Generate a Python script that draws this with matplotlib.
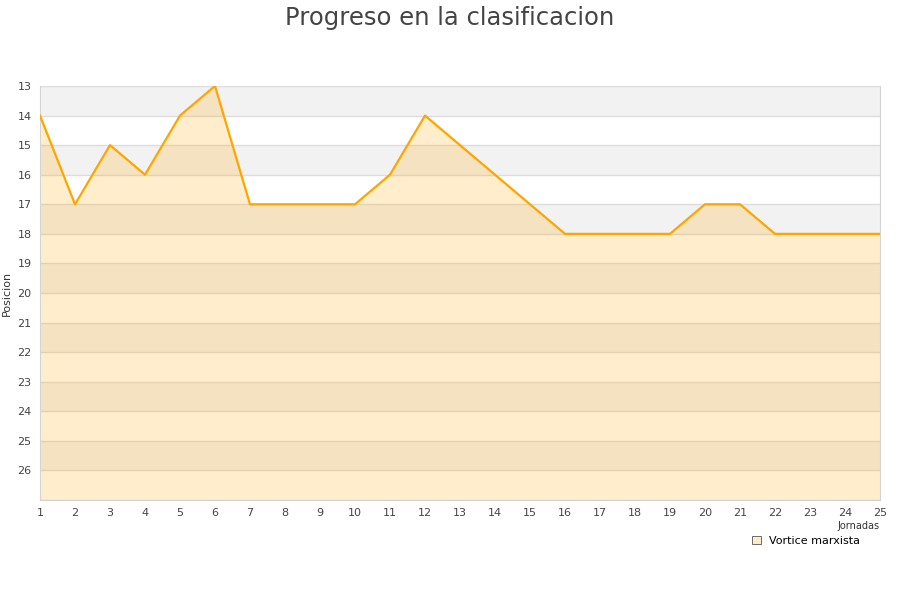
import numpy as np
import matplotlib.pyplot as plt
from matplotlib.patches import Patch

jornadas = list(range(1, 26))
posicion = [14, 17, 15, 16, 14, 13, 17, 17, 17, 17, 16, 14, 15, 16, 17,
            18, 18, 18, 18, 17, 17, 18, 18, 18, 18]
equipo = "Vortice marxista"
y_ticks = list(range(13, 27))

fig = plt.figure(figsize=(9, 6), dpi=100)
ax = fig.add_axes([40/900, 1-500/600, 840/900, 414/600])

# bandas alternas
for y0 in range(13, 27, 2):
    ax.axhspan(y0, y0 + 1, color='#f2f2f2', lw=0, zorder=0)
for y in range(13, 28):
    ax.axhline(y, color='#dddddd', lw=1, zorder=1)

ax.fill_between(jornadas, posicion, 27, color='#ffa500', alpha=0.2, lw=0, zorder=2)
ax.plot(jornadas, posicion, color='#ffa500', lw=1.6, zorder=3)

ax.set_xlim(1, 25)
ax.set_ylim(27, 13)
ax.set_xticks(jornadas)
ax.set_yticks(y_ticks)
ax.tick_params(length=0, labelsize=8, colors='#444444', pad=6)
ax.spines['top'].set_visible(False)
for s in ['left', 'bottom', 'right']:
    ax.spines[s].set_color('#d4d4d4')

ax.set_ylabel("Posicion", fontsize=8, color='#333333', labelpad=4)
fig.text(880/900, 1-526/600, "Jornadas", ha='right', va='center', fontsize=7, color='#333333')

fig.suptitle("Progreso en la clasificacion", y=0.99, fontsize=17.5, color='#444444')

h = Patch(facecolor='#ffebc8', edgecolor='#555555', lw=0.6)
leg = fig.legend([h], [equipo], loc='center', bbox_to_anchor=(806/900, 1-541/600),
                 fontsize=8, frameon=True, handlelength=0.8, handleheight=0.8,
                 borderpad=0.2, borderaxespad=0, handletextpad=0.8)
leg.get_frame().set_facecolor('white')
leg.get_frame().set_edgecolor('none')
leg.get_frame().set_alpha(1)

plt.savefig('out.png', dpi=100)
